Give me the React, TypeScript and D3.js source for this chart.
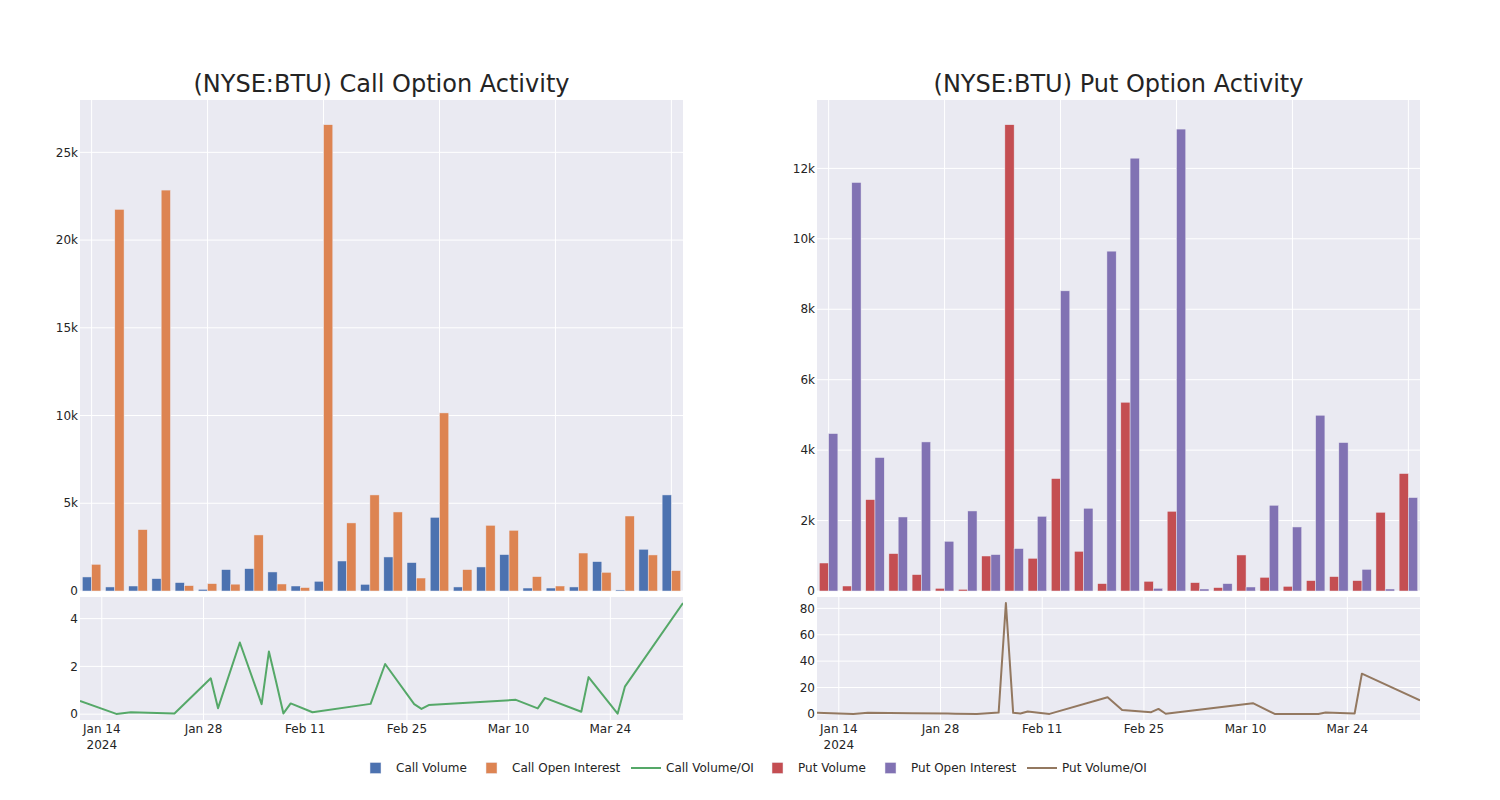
import React from "react";
import * as d3 from "d3";

const dates = [
  "2024-01-11", "2024-01-16", "2024-01-18", "2024-01-24", "2024-01-29", "2024-01-30",
  "2024-02-02", "2024-02-05", "2024-02-06", "2024-02-07", "2024-02-08", "2024-02-09",
  "2024-02-12", "2024-02-20", "2024-02-22", "2024-02-26", "2024-02-27", "2024-02-28",
  "2024-03-11", "2024-03-14", "2024-03-15", "2024-03-20", "2024-03-21", "2024-03-25",
  "2024-03-26", "2024-04-03",
];

const callVolume = [800, 230, 285, 705, 480, 95, 1220, 1275, 1085, 285, 555, 1710, 380, 1940, 1620, 4200, 230, 1370, 2075, 170, 170, 230, 1675, 60, 2380, 5475];
const callOpenInterest = [1520, 21750, 3500, 22850, 305, 420, 390, 3195, 400, 195, 26575, 3880, 5475, 4505, 740, 10150, 1220, 3745, 3460, 820, 285, 2165, 1065, 4275, 2055, 1160];
const callRatio = [0.55, 0.01, 0.08, 0.03, 1.5, 0.25, 3.0, 0.42, 2.62, 1.35, 0.03, 0.45, 0.08, 0.43, 2.1, 0.42, 0.22, 0.38, 0.6, 0.24, 0.68, 0.1, 1.55, 0.02, 1.15, 4.65];

const putVolume = [795, 142, 2595, 1062, 466, 77, 48, 994, 13240, 929, 3193, 1128, 210, 5360, 276, 2264, 238, 97, 1023, 389, 133, 295, 409, 295, 2236, 3335];
const putOpenInterest = [4470, 11600, 3790, 2102, 4233, 1412, 2273, 1034, 1205, 2122, 8523, 2350, 9650, 12290, 77, 13116, 57, 210, 114, 2435, 1818, 4991, 4215, 616, 57, 2653];
const putRatio = [0.8, 0.0, 0.8, 0.5, 0.3, 0.2, 0.0, 1.0, 84, 0.8, 0.3, 1.8, 0.0, 12.6, 3.0, 1.3, 3.8, 0.1, 8.1, 0.0, 0.0, 0.0, 1.0, 0.3, 30.5, 10.2];

const callBarTicks = [0, 5000, 10000, 15000, 20000, 25000];
const putBarTicks = [0, 2000, 4000, 6000, 8000, 10000, 12000];
const callRatioTicks = [0, 2, 4];
const putRatioTicks = [0, 20, 40, 60, 80];
const dateTicks = ["2024-01-14", "2024-01-28", "2024-02-11", "2024-02-25", "2024-03-10", "2024-03-24"];
const dateTickLabels = ["Jan 14", "Jan 28", "Feb 11", "Feb 25", "Mar 10", "Mar 24"];
const gridCategoryStep = 5;

const legendLabels = ["Call Volume", "Call Open Interest", "Call Volume/OI", "Put Volume", "Put Open Interest", "Put Volume/OI"];

const BLUE = "rgb(76,114,176)";
const ORANGE = "rgb(221,132,82)";
const GREEN = "rgb(85,168,104)";
const RED = "rgb(196,78,82)";
const PURPLE = "rgb(129,114,179)";
const BROWN = "rgb(147,120,96)";
const BG = "rgb(234,234,242)";
const TXT = "rgb(36,36,36)";
const FONT = "'DejaVu Sans', sans-serif";

const parse = d3.timeParse("%Y-%m-%d");
const dateObjs = dates.map((d) => parse(d) as Date);
const tickDates = dateTicks.map((d) => parse(d) as Date);

const TOP_Y0 = 100;
const TOP_Y1 = 591;
const BOT_Y0 = 597;
const BOT_Y1 = 720;
const PLOT_W = 603;

type PanelProps = {
  x0: number;
  title: string;
  vol: number[];
  oi: number[];
  ratio: number[];
  colors: [string, string];
  lineColor: string;
  barTicks: number[];
  ratioTicks: number[];
};

function Panel({ x0, title, vol, oi, ratio, colors, lineColor, barTicks, ratioTicks }: PanelProps) {
  const x1 = x0 + PLOT_W;
  const idx = dates.map((_, i) => String(i));
  const band = d3.scaleBand<string>().domain(idx).range([x0, x1]).paddingInner(0.2).paddingOuter(0.1);
  const sub = d3.scaleBand<string>().domain(["v", "o"]).range([0, band.bandwidth()]);
  const maxBar = d3.max([...vol, ...oi]) as number;
  const yBar = d3.scaleLinear().domain([0, maxBar * 1.053]).range([TOP_Y1, TOP_Y0]);

  const xTime = d3.scaleTime().domain(d3.extent(dateObjs) as [Date, Date]).range([x0, x1]);
  const rMin = d3.min(ratio) as number;
  const rMax = d3.max(ratio) as number;
  const pad = (rMax - rMin) * 0.055;
  const yR = d3.scaleLinear().domain([rMin - pad, rMax + pad]).range([BOT_Y1, BOT_Y0]);
  const line = d3
    .line<number>()
    .x((_, i) => xTime(dateObjs[i]))
    .y((d) => yR(d));
  const fmt = d3.format("~s");
  const clipId = "clip" + x0;

  return (
    <g>
      <text x={(x0 + x1) / 2} y={92} textAnchor="middle" fontSize={24} fill={TXT} fontFamily={FONT}>
        {title}
      </text>
      {/* top bar plot */}
      <rect x={x0} y={TOP_Y0} width={PLOT_W} height={TOP_Y1 - TOP_Y0} fill={BG} />
      {barTicks.map((t) => (
        <line key={"gy" + t} x1={x0} x2={x1} y1={yBar(t)} y2={yBar(t)} stroke="white" strokeWidth={1} />
      ))}
      {idx
        .filter((_, i) => i % gridCategoryStep === 0)
        .map((k) => {
          const cx = (band(k) as number) + band.bandwidth() / 2;
          return <line key={"gx" + k} x1={cx} x2={cx} y1={TOP_Y0} y2={TOP_Y1} stroke="white" strokeWidth={1} />;
        })}
      {idx.map((k, i) => (
        <g key={"b" + k}>
          <rect
            x={(band(k) as number) + (sub("v") as number)}
            y={yBar(vol[i])}
            width={sub.bandwidth()}
            height={yBar(0) - yBar(vol[i])}
            fill={colors[0]}
            stroke={BG}
            strokeWidth={0.5}
          />
          <rect
            x={(band(k) as number) + (sub("o") as number)}
            y={yBar(oi[i])}
            width={sub.bandwidth()}
            height={yBar(0) - yBar(oi[i])}
            fill={colors[1]}
            stroke={BG}
            strokeWidth={0.5}
          />
        </g>
      ))}
      {barTicks.map((t) => (
        <text key={"ty" + t} x={x0 - 2} y={yBar(t)} dy="0.35em" textAnchor="end" fontSize={12} fill={TXT} fontFamily={FONT}>
          {fmt(t)}
        </text>
      ))}
      {/* bottom ratio plot */}
      <rect x={x0} y={BOT_Y0} width={PLOT_W} height={BOT_Y1 - BOT_Y0} fill={BG} />
      <clipPath id={clipId}>
        <rect x={x0} y={BOT_Y0} width={PLOT_W} height={BOT_Y1 - BOT_Y0} />
      </clipPath>
      {ratioTicks.map((t) => (
        <line key={"ry" + t} x1={x0} x2={x1} y1={yR(t)} y2={yR(t)} stroke="white" strokeWidth={1} />
      ))}
      {tickDates.map((d, i) => (
        <line key={"rx" + i} x1={xTime(d)} x2={xTime(d)} y1={BOT_Y0} y2={BOT_Y1} stroke="white" strokeWidth={1} />
      ))}
      <path d={line(ratio) as string} fill="none" stroke={lineColor} strokeWidth={2} clipPath={`url(#${clipId})`} strokeLinejoin="round" />
      {ratioTicks.map((t) => (
        <text key={"rt" + t} x={x0 - 2} y={yR(t)} dy="0.35em" textAnchor="end" fontSize={12} fill={TXT} fontFamily={FONT}>
          {t}
        </text>
      ))}
      {tickDates.map((d, i) => (
        <text key={"dt" + i} x={xTime(d)} y={733} textAnchor="middle" fontSize={12} fill={TXT} fontFamily={FONT}>
          {dateTickLabels[i]}
          {i === 0 ? (
            <tspan x={xTime(d)} dy={16}>
              {d3.timeFormat("%Y")(d)}
            </tspan>
          ) : null}
        </text>
      ))}
    </g>
  );
}

export default function App() {
  const legendX = [396, 512, 666, 798, 911, 1062];
  const legendColors = [BLUE, ORANGE, GREEN, RED, PURPLE, BROWN];
  const legendIsLine = [false, false, true, false, false, true];
  return (
    <svg width={1500} height={800} style={{ position: "absolute", left: 0, top: 0, background: "white" }}>
      <Panel
        x0={80}
        title="(NYSE:BTU) Call Option Activity"
        vol={callVolume}
        oi={callOpenInterest}
        ratio={callRatio}
        colors={[BLUE, ORANGE]}
        lineColor={GREEN}
        barTicks={callBarTicks}
        ratioTicks={callRatioTicks}
      />
      <Panel
        x0={817}
        title="(NYSE:BTU) Put Option Activity"
        vol={putVolume}
        oi={putOpenInterest}
        ratio={putRatio}
        colors={[RED, PURPLE]}
        lineColor={BROWN}
        barTicks={putBarTicks}
        ratioTicks={putRatioTicks}
      />
      {legendLabels.map((lab, i) => (
        <g key={lab}>
          {legendIsLine[i] ? (
            <line x1={legendX[i] - 35} x2={legendX[i] - 5} y1={768} y2={768} stroke={legendColors[i]} strokeWidth={2} />
          ) : (
            <rect x={legendX[i] - 26} y={762.5} width={11} height={11} fill={legendColors[i]} stroke={BG} strokeWidth={0.5} />
          )}
          <text x={legendX[i]} y={772} fontSize={12} fill={TXT} fontFamily={FONT}>
            {lab}
          </text>
        </g>
      ))}
    </svg>
  );
}
